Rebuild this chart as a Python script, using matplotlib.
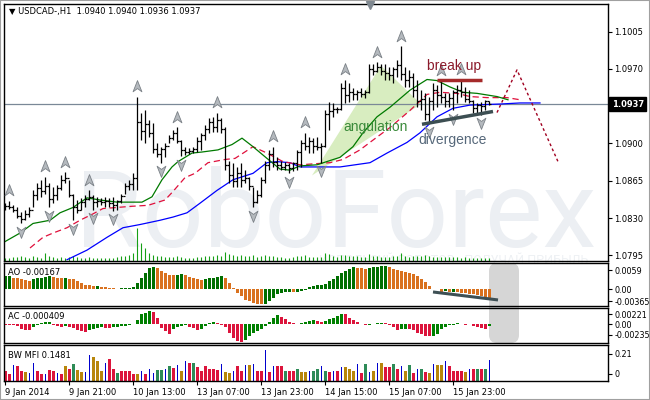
import numpy as np
import matplotlib
matplotlib.use('Agg')
import matplotlib.pyplot as plt
import matplotlib.transforms as mtransforms
from matplotlib.path import Path
from matplotlib.patches import FancyBboxPatch, Rectangle

# USDCAD H1 bars, 9 Jan 2014 05:00 onwards
highs = [1.0844, 1.0846, 1.0842, 1.0840, 1.0836, 1.0838, 1.0840, 1.0856, 1.0863, 1.0866,
         1.0869, 1.0863, 1.0859, 1.0861, 1.0870, 1.0873, 1.0866, 1.0853, 1.0847, 1.0849,
         1.0852, 1.0856, 1.0852, 1.0850, 1.0849, 1.0850, 1.0849, 1.0850, 1.0847, 1.0853,
         1.0863, 1.0866, 1.0872, 1.0944, 1.0929, 1.0931, 1.0922, 1.0919, 1.0900, 1.0897,
         1.0900, 1.0908, 1.0913, 1.0915, 1.0903, 1.0897, 1.0896, 1.0897, 1.0906, 1.0910,
         1.0917, 1.0924, 1.0925, 1.0929, 1.0924, 1.0915, 1.0884, 1.0882, 1.0878, 1.0882,
         1.0875, 1.0869, 1.0859, 1.0856, 1.0869, 1.0884, 1.0894, 1.0897, 1.0887, 1.0884,
         1.0883, 1.0882, 1.0883, 1.0894, 1.0903, 1.0910, 1.0906, 1.0905, 1.0906, 1.0900,
         1.0931, 1.0939, 1.0938, 1.0934, 1.0957, 1.0960, 1.0957, 1.0952, 1.0950, 1.0952,
         1.0950, 1.0975, 1.0975, 1.0976, 1.0975, 1.0975, 1.0972, 1.0972, 1.0978, 1.0991,
         1.0972, 1.0969, 1.0966, 1.0960, 1.0950, 1.0947, 1.0944, 1.0957, 1.0955, 1.0959,
         1.0947, 1.0947, 1.0950, 1.0955, 1.0960, 1.0953, 1.0950, 1.0941, 1.0938, 1.0939,
         1.0941, 1.0940]
lows = [1.0838, 1.0839, 1.0836, 1.0830, 1.0825, 1.0828, 1.0831, 1.0840, 1.0847, 1.0850,
        1.0853, 1.0840, 1.0844, 1.0847, 1.0856, 1.0863, 1.0850, 1.0828, 1.0835, 1.0838,
        1.0840, 1.0847, 1.0838, 1.0840, 1.0842, 1.0840, 1.0840, 1.0837, 1.0838, 1.0844,
        1.0853, 1.0856, 1.0856, 1.0856, 1.0903, 1.0900, 1.0906, 1.0891, 1.0887, 1.0882,
        1.0887, 1.0900, 1.0903, 1.0900, 1.0888, 1.0889, 1.0890, 1.0891, 1.0892, 1.0894,
        1.0903, 1.0910, 1.0911, 1.0911, 1.0910, 1.0875, 1.0863, 1.0859, 1.0859, 1.0859,
        1.0863, 1.0856, 1.0840, 1.0844, 1.0850, 1.0863, 1.0875, 1.0878, 1.0875, 1.0875,
        1.0875, 1.0872, 1.0874, 1.0875, 1.0878, 1.0894, 1.0891, 1.0891, 1.0894, 1.0882,
        1.0897, 1.0913, 1.0925, 1.0929, 1.0931, 1.0938, 1.0939, 1.0941, 1.0941, 1.0944,
        1.0943, 1.0947, 1.0964, 1.0967, 1.0964, 1.0960, 1.0960, 1.0957, 1.0962, 1.0960,
        1.0953, 1.0953, 1.0944, 1.0934, 1.0931, 1.0922, 1.0919, 1.0931, 1.0934, 1.0938,
        1.0934, 1.0934, 1.0931, 1.0938, 1.0944, 1.0939, 1.0938, 1.0929, 1.0929, 1.0927,
        1.0931, 1.0936]
closes = [1.0841, 1.0840, 1.0838, 1.0832, 1.0829, 1.0834, 1.0838, 1.0852, 1.0858, 1.0855,
          1.0860, 1.0848, 1.0852, 1.0858, 1.0866, 1.0868, 1.0852, 1.0840, 1.0838, 1.0845,
          1.0848, 1.0850, 1.0845, 1.0846, 1.0845, 1.0846, 1.0844, 1.0842, 1.0846, 1.0851,
          1.0860, 1.0862, 1.0868, 1.0920, 1.0912, 1.0918, 1.0910, 1.0895, 1.0890, 1.0895,
          1.0898, 1.0905, 1.0910, 1.0902, 1.0894, 1.0892, 1.0893, 1.0895, 1.0902, 1.0908,
          1.0914, 1.0920, 1.0915, 1.0922, 1.0914, 1.0880, 1.0870, 1.0865, 1.0872, 1.0866,
          1.0868, 1.0860, 1.0845, 1.0852, 1.0866, 1.0880, 1.0890, 1.0883, 1.0880, 1.0878,
          1.0880, 1.0877, 1.0882, 1.0892, 1.0900, 1.0898, 1.0902, 1.0898, 1.0897, 1.0898,
          1.0928, 1.0930, 1.0932, 1.0932, 1.0952, 1.0945, 1.0948, 1.0946, 1.0948, 1.0946,
          1.0948, 1.0970, 1.0968, 1.0972, 1.0968, 1.0966, 1.0964, 1.0970, 1.0974, 1.0965,
          1.0960, 1.0962, 1.0950, 1.0940, 1.0942, 1.0928, 1.0940, 1.0950, 1.0945, 1.0944,
          1.0940, 1.0943, 1.0948, 1.0950, 1.0948, 1.0942, 1.0940, 1.0933, 1.0936, 1.0935,
          1.0940, 1.0937]
first_open = 1.0842
volumes = [3, 3, 4, 4, 5, 4, 3, 5, 4, 3,
           8, 5, 4, 3, 4, 3, 4, 5, 4, 3,
           3, 4, 3, 3, 3, 3, 3, 3, 4, 5,
           5, 6, 8, 33, 18, 13, 8, 6, 5, 5,
           4, 4, 4, 5, 4, 3, 3, 3, 4, 4,
           5, 5, 5, 6, 5, 9, 7, 6, 5, 6,
           5, 5, 6, 4, 5, 6, 5, 5, 4, 4,
           3, 3, 4, 5, 5, 6, 4, 4, 4, 4,
           8, 7, 5, 4, 6, 6, 5, 5, 5, 4,
           4, 7, 5, 5, 4, 4, 4, 5, 5, 8,
           5, 4, 5, 5, 5, 6, 5, 4, 4, 4,
           4, 4, 4, 4, 3, 4, 3, 3, 3, 3, 3, 3]

ao = [0.0041, 0.0041, 0.0036, 0.0034, 0.0031, 0.0028, 0.0026, 0.0031, 0.0036, 0.0036,
      0.0039, 0.0041, 0.0039, 0.0036, 0.0034, 0.0036, 0.0033, 0.0031, 0.0026, 0.0020,
      0.0015, 0.0013, 0.0010, 0.0010, 0.0008, 0.0007, 0.0006, 0.0004, 0.0003, 0.0004,
      0.0005, 0.0006, 0.0008, 0.0020, 0.0036, 0.0051, 0.0066, 0.0070, 0.0066, 0.0056,
      0.0051, 0.0044, 0.0043, 0.0044, 0.0046, 0.0044, 0.0038, 0.0034, 0.0031, 0.0028,
      0.0031, 0.0034, 0.0036, 0.0039, 0.0041, 0.0036, 0.0020, 0.0005, -0.0010, -0.0020,
      -0.0031, -0.0036, -0.0041, -0.0044, -0.0045, -0.0044, -0.0036, -0.0026, -0.0015, -0.0012,
      -0.0008, -0.0007, -0.0008, -0.0007, -0.0005, -0.0002, 0.0007, 0.0010, 0.0013, 0.0015,
      0.0018, 0.0026, 0.0031, 0.0041, 0.0049, 0.0058, 0.0064, 0.0068, 0.0066, 0.0065,
      0.0064, 0.0066, 0.0068, 0.0069, 0.0071, 0.0073, 0.0069, 0.0064, 0.0059, 0.0058,
      0.0054, 0.0049, 0.0046, 0.0041, 0.0031, 0.0023, 0.0010, 0.0003, 0.0001, -0.0007,
      -0.0006, -0.0008, -0.0007, -0.0009, -0.0011, -0.0012, -0.0013, -0.0015, -0.0017, -0.0020,
      -0.0023, -0.0025]
ac = [-0.0002, -0.0002, -0.0002, -0.0004, -0.0010, -0.0013, -0.0013, -0.0007, -0.0001, 0.0002,
      0.0004, 0.0005, -0.0002, -0.0003, -0.0005, -0.0004, -0.0007, -0.0009, -0.0013, -0.0015,
      -0.0018, -0.0013, -0.0010, -0.0009, -0.0007, -0.0009, -0.0009, -0.0007, -0.0006, -0.0004,
      -0.0003, -0.0001, 0.0001, 0.0009, 0.0023, 0.0026, 0.0029, 0.0028, 0.0013, -0.0009,
      -0.0015, -0.0022, -0.0010, -0.0005, -0.0003, -0.0001, -0.0005, -0.0009, -0.0012, -0.0010,
      -0.0003, 0.0002, 0.0004, 0.0002, -0.0001, -0.0006, -0.0020, -0.0030, -0.0037, -0.0039,
      -0.0034, -0.0027, -0.0020, -0.0015, -0.0011, -0.0004, 0.0004, 0.0013, 0.0020, 0.0017,
      0.0011, 0.0005, 0.0002, 0.0001, 0.0002, 0.0005, 0.0008, 0.0009, 0.0007, 0.0004,
      0.0007, 0.0011, 0.0015, 0.0018, 0.0023, 0.0022, 0.0015, 0.0010, 0.0006, 0.0001,
      -0.0002, -0.0001, 0.0001, 0.0002, 0.0003, 0.0002, -0.0002, -0.0006, -0.0013, -0.0011,
      -0.0010, -0.0011, -0.0013, -0.0020, -0.0022, -0.0026, -0.0027, -0.0025, -0.0021, -0.0011,
      -0.0007, -0.0002, -0.0001, 0.0002, 0.0001, -0.0002, 0.0001, -0.0004, -0.0006, -0.0009,
      -0.0010, -0.000409]
mfi = [0.024, 0.003, 0.095, 0.085, 0.034, 0.017, 0.007, 0.112, 0.027, 0.003,
       0.003, 0.044, 0.034, 0.010, 0.003, 0.085, 0.051, 0.105, 0.044, 0.017,
       0.017, 0.197, 0.180, 0.136, 0.024, 0.112, 0.153, 0.051, 0.010, 0.034,
       0.034, 0.034, 0.003, 0.003, 0.034, 0.003, 0.051, 0.010, 0.041, 0.041,
       0.051, 0.078, 0.065, 0.092, 0.034, 0.136, 0.112, 0.112, 0.068, 0.024,
       0.085, 0.051, 0.051, 0.044, 0.102, 0.017, 0.010, 0.034, 0.078, 0.034,
       0.095, 0.095, 0.102, 0.034, 0.034, 0.245, 0.017, 0.078, 0.078, 0.078,
       0.034, 0.034, 0.034, 0.051, 0.017, 0.017, 0.024, 0.027, 0.051, 0.085,
       0.027, 0.017, 0.024, 0.024, 0.068, 0.068, 0.051, 0.034, 0.102, 0.010,
       0.102, 0.017, 0.034, 0.112, 0.112, 0.068, 0.068, 0.102, 0.051, 0.085,
       0.027, 0.095, 0.010, 0.051, 0.051, 0.017, 0.010, 0.102, 0.095, 0.095,
       0.136, 0.085, 0.034, 0.027, 0.034, 0.017, 0.051, 0.051, 0.051, 0.051,
       0.051, 0.1481]
# g = green, b = fade (brown), u = fake (blue), r = squat (pink)
mfi_kind = ("rrurrbuurr" "urrurbrgbb" "uubbburrgr" "rrrburuugg" "ugruburgrr"
            "rrrrubburr" "uburrururr" "grrgbbuggu" "grurubbbur" "gububrrgru"
            "bgrugrbubb" "urrrrburgrgu")

up_fractals = [1, 10, 15, 21, 33, 43, 53, 67, 75, 85, 93, 99, 109, 114]
down_fractals = [4, 11, 17, 22, 27, 39, 44, 62, 71, 79, 106, 112, 119]

# Alligator lines (bar position, price), shifted forward past the last bar
lips_x = [0, 3.75, 7, 11.25, 13.75, 17, 20.5, 23.75, 28, 31.25,
          34.25, 36.75, 39.25, 41.75, 43.25, 46.75, 49.25, 53.25, 56.75, 59.25,
          62, 65.5, 68.75, 71.25, 73.75, 78, 81.25, 83.75, 87, 89.5,
          93, 96.25, 101.25, 105.5, 108, 111.25, 114.5, 118, 123, 125.75]
lips_y = [1.0808, 1.0816, 1.0825, 1.0828, 1.0835, 1.0840, 1.0849, 1.0847, 1.0845, 1.0845,
          1.0845, 1.0850, 1.0866, 1.0878, 1.0883, 1.0891, 1.0892, 1.0894, 1.0899, 1.0905,
          1.0897, 1.0886, 1.0876, 1.0875, 1.0879, 1.0880, 1.0884, 1.0887, 1.0897, 1.0910,
          1.0925, 1.0934, 1.0950, 1.0960, 1.0959, 1.0953, 1.0948, 1.0947, 1.0944, 1.0941]
teeth_x = [6.25, 9.5, 12, 15.5, 18.75, 22, 24.5, 28, 31.25, 35.75,
           40, 42, 45, 47.5, 50.75, 55, 57.5, 62, 65.5, 69.5,
           73.75, 81.25, 84.5, 88.75, 93, 96.25, 101.25, 105.5, 108.75, 113,
           116.25, 120.5, 125.5, 128.75]
teeth_y = [1.0802, 1.0812, 1.0816, 1.0821, 1.0828, 1.0834, 1.0839, 1.0840, 1.0841, 1.0842,
           1.0847, 1.0855, 1.0868, 1.0872, 1.0882, 1.0885, 1.0886, 1.0897, 1.0891, 1.0883,
           1.0880, 1.0882, 1.0885, 1.0894, 1.0906, 1.0915, 1.0931, 1.0946, 1.0948, 1.0947,
           1.0944, 1.0943, 1.0943, 1.0941]
jaw_x = [15.5, 20.5, 25.5, 29.5, 33.75, 38.75, 42, 45.5, 48.75, 53,
         57, 62, 65.5, 68, 71.25, 73.75, 78, 83.75, 91.25, 95.5,
         100.5, 103.75, 108, 112, 116.25, 123.75, 128.75, 133.75]
jaw_y = [1.0791, 1.0800, 1.0812, 1.0821, 1.0824, 1.0828, 1.0831, 1.0835, 1.0844, 1.0856,
         1.0866, 1.0872, 1.0882, 1.0883, 1.0882, 1.0878, 1.0878, 1.0878, 1.0882, 1.0891,
         1.0901, 1.0910, 1.0925, 1.0933, 1.0936, 1.0937, 1.0938, 1.0938]

time_labels = ['9 Jan 2014', '9 Jan 21:00', '10 Jan 13:00', '13 Jan 07:00',
               '13 Jan 23:00', '14 Jan 15:00', '15 Jan 07:00', '15 Jan 23:00']
label_bars = [0, 16, 32, 48, 64, 80, 96, 112]
price_ticks = [1.1005, 1.0970, 1.0900, 1.0865, 1.0830, 1.0795]
last_price = 1.0937

n = len(closes)
assert len(highs) == n and len(lows) == n and len(volumes) == n
assert len(ao) == n and len(ac) == n and len(mfi) == n and len(mfi_kind) == n
idx = np.arange(n)
opens = np.r_[first_open, closes[:-1]]

W, H = 650, 400
def box(top, bottom, left=4, right=608):
    return [left / W, 1 - bottom / H, (right - left) / W, (bottom - top) / H]

fig = plt.figure(figsize=(6.5, 4), dpi=100)
fig.patch.set_facecolor('white')
ax = fig.add_axes(box(4, 261))
ax_ao = fig.add_axes(box(263, 306))
ax_ac = fig.add_axes(box(308, 343))
ax_mfi = fig.add_axes(box(345, 381))

for a in (ax, ax_ao, ax_ac, ax_mfi):
    a.set_xlim(-0.25, 150.75)
    a.yaxis.tick_right()
    a.tick_params(axis='y', direction='out', length=3, width=0.8, labelsize=6, pad=1.5)
    a.tick_params(axis='x', bottom=False, labelbottom=False)
    for s in a.spines.values():
        s.set_linewidth(1.0)
        s.set_color('black')
for a in (ax_ao, ax_ac, ax_mfi):
    a.set_facecolor('none')
    a.tick_params(axis='y', labelsize=5.8)

# ---- main price panel ----
ax.set_ylim(1.07898, 1.10308)
ax.set_yticks(price_ticks, [f'{p:.4f}' for p in price_ticks])

ax.text(0.1175, 0.055, 'RoboForex', transform=ax.transAxes, fontsize=78,
        family='Roboto', color='#eceff3', ha='left', va='baseline', zorder=0.5)
ax.text(0.967, -0.01, 'ИСПОЛЬЗУЙ РОБОТОВ - ПОЛУЧАЙ ПРИБЫЛЬ', transform=ax.transAxes,
        fontsize=9, family='Roboto', color='#eef1f4', ha='right', va='baseline', zorder=0.5)

ax.fill([76.75, 94, 104], [1.0870, 1.0973, 1.0937], color='#d8edc0', lw=0, zorder=1)
ax.axhline(last_price, color='#7a8897', lw=0.9, zorder=1.5)

vol_tr = mtransforms.blended_transform_factory(ax.transData, ax.transAxes)
ax.vlines(idx, 0, np.array(volumes) / 257, transform=vol_tr, color='#16a016', lw=0.8, zorder=2)

ax.plot(jaw_x, jaw_y, color='#0000ff', lw=0.9, zorder=2)
ax.plot(teeth_x, teeth_y, color='#e0103c', lw=0.9, ls=(0, (5, 3)), zorder=2)
ax.plot(lips_x, lips_y, color='#007a00', lw=0.9, zorder=2)

ax.vlines(idx, lows, highs, color='black', lw=0.9, zorder=3)
ax.hlines(opens, idx - 0.4, idx, color='black', lw=0.9, zorder=3)
ax.hlines(closes, idx, idx + 0.4, color='black', lw=0.9, zorder=3)

up_arrow = Path([(0, 1), (0.75, -0.9), (0, -0.35), (-0.75, -0.9), (0, 1)],
                [Path.MOVETO, Path.LINETO, Path.LINETO, Path.LINETO, Path.CLOSEPOLY])
down_arrow = Path([(0, -1), (0.75, 0.9), (0, 0.35), (-0.75, 0.9), (0, -1)],
                  [Path.MOVETO, Path.LINETO, Path.LINETO, Path.LINETO, Path.CLOSEPOLY])
hi = np.array(highs)
lo = np.array(lows)
ax.plot(up_fractals, hi[up_fractals] + 0.0010, ls='none', marker=up_arrow, ms=8.5,
        mfc='#b4b9be', mec='#7a8086', mew=0.6, zorder=4)
ax.plot(down_fractals, lo[down_fractals] - 0.0008, ls='none', marker=down_arrow, ms=8.5,
        mfc='#b4b9be', mec='#7a8086', mew=0.6, zorder=4)
ax.plot([91.25], [0.995], transform=vol_tr, marker='v', ms=6, color='#7f8890',
        clip_on=False, zorder=4)

# analyst drawings
ax.plot([108, 119.25], [1.0960, 1.0960], color='#a52a2a', lw=2.5, solid_capstyle='butt', zorder=5)
ax.plot([104.25, 122], [1.0918, 1.0930], color='#3c4e52', lw=2.5, solid_capstyle='butt', zorder=5)
ax.plot([123, 128, 138.25], [1.0929, 1.0969, 1.0883], color='#a00020', lw=1,
        ls=(0, (2, 2)), zorder=5)
ax.text(105.5, 1.0973, 'break up', fontsize=10, family='Liberation Sans',
        color='#8b1a2b', va='center', zorder=6)
ax.text(84.5, 1.0915, 'angulation', fontsize=10, family='Liberation Sans',
        color='#3a8a3a', va='center', zorder=6)
ax.text(103.25, 1.0903, 'divergence', fontsize=10, family='Liberation Sans',
        color='#56687a', va='center', zorder=6)

ax.text(0.008, 0.969, '▼ USDCAD-,H1  1.0940 1.0940 1.0936 1.0937', transform=ax.transAxes,
        fontsize=6, va='center', ha='left')
price_tr = mtransforms.blended_transform_factory(ax.transAxes, ax.transData)
ax.text(1.006, last_price, f'{last_price:.4f}', transform=price_tr, fontsize=6,
        fontweight='bold', color='white', va='center', ha='left',
        bbox=dict(boxstyle='square,pad=0.3', fc='black', ec='black'))

# ---- Awesome Oscillator ----
ax_ao.set_ylim(-0.00505, 0.0081)
ao_col = ['#006f00' if i == 0 or ao[i] >= ao[i - 1] else '#d9711e' for i in range(n)]
ax_ao.bar(idx, ao, width=0.75, color=ao_col, lw=0)
ax_ao.plot([107, 123.25], [-0.00076, -0.0032], color='#3e5055', lw=2.2,
           solid_capstyle='butt', clip_on=False, zorder=5)
ax_ao.set_yticks([0.0059, 0.0, -0.00365], ['0.0059', '0.00', '-0.00365'])
ax_ao.text(0.0066, 0.79, 'AO -0.00167', transform=ax_ao.transAxes, fontsize=6, va='center')

# ---- Accelerator Oscillator ----
ax_ac.set_ylim(-0.00416, 0.00362)
ac_col = ['#dc143c' if i == 0 or ac[i] <= ac[i - 1] else '#008000' for i in range(n)]
ax_ac.bar(idx, ac, width=0.75, color=ac_col, lw=0)
ax_ac.set_yticks([0.00221, 0.0, -0.00235], ['0.00221', '0.00', '-0.00235'])
ax_ac.text(0.0066, 0.743, 'AC -0.000409', transform=ax_ac.transAxes, fontsize=6, va='center')

# ---- BW MFI ----
mfi_base = -0.075
ax_mfi.set_ylim(mfi_base, 0.30)
kind_col = {'g': '#2e8b57', 'b': '#b8860b', 'u': '#0000cd', 'r': '#dc143c'}
cols = [kind_col[k] for k in mfi_kind]
widths = [0.25 if k == 'u' else 0.75 for k in mfi_kind]
ax_mfi.bar(idx, np.array(mfi) - mfi_base, bottom=mfi_base, width=widths, color=cols, lw=0)
ax_mfi.set_yticks([0.21, 0.0], ['0.21', '0'])
ax_mfi.text(0.0066, 0.72, 'BW MFI 0.1481', transform=ax_mfi.transAxes, fontsize=6, va='center')
ax_mfi.set_xticks(label_bars, time_labels)
ax_mfi.tick_params(axis='x', bottom=True, labelbottom=True, direction='out',
                   length=3, width=0.8, labelsize=6, pad=2)
for lbl in ax_mfi.get_xticklabels():
    lbl.set_ha('left')

# grey marker box over the indicator windows
fig.patches.append(FancyBboxPatch((4.89, 0.57), 0.30, 0.80,
                                  boxstyle='round,pad=0,rounding_size=0.08',
                                  transform=fig.dpi_scale_trans, fc='#d6d6d6',
                                  ec='none', zorder=-1))
fig.patches.append(Rectangle((0, 0), 1, 1, transform=fig.transFigure, fill=False,
                             ec='#a0a0a0', lw=1.5, zorder=10))

fig.savefig('out.png', dpi=100)
